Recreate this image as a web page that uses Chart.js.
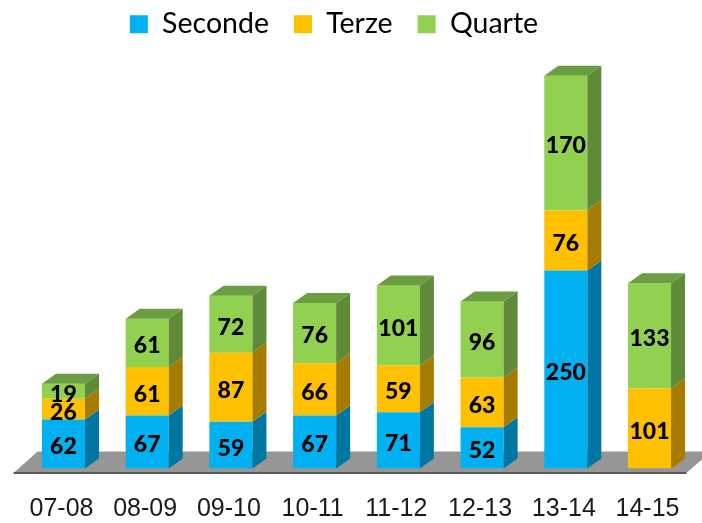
<!DOCTYPE html>
<html>
<head>
<meta charset="utf-8">
<title>Seconde Terze Quarte</title>
<script src="https://cdn.jsdelivr.net/npm/chart.js@4"></script>
<style>
    html, body { margin: 0; padding: 0; background: #fff; }
    canvas { display: block; }
</style>
</head>
<body>
<canvas id="bar_chart" width="702" height="523"></canvas>
<script>
/* global Chart */
var years = ['07-08', '08-09', '09-10', '10-11', '11-12', '12-13', '13-14', '14-15'];
var seconde = [62, 67, 59, 67, 71, 52, 250, 0];
var terze = [26, 61, 87, 66, 59, 63, 76, 101];
var quarte = [19, 61, 72, 76, 101, 96, 170, 133];

var frontColors = ['#00B0F0', '#FFC000', '#92D050'];
var sideColors = ['#0076A3', '#A67C00', '#5F8A37'];
var topColor = '#6B9E40';

// depth of the fake 3d effect
var depthX = 14;
var depthY = 10;

function poly(ctx, pts, color) {
    ctx.fillStyle = color;
    ctx.beginPath();
    ctx.moveTo(pts[0][0], pts[0][1]);
    for (var i = 1; i < pts.length; i++) {
        ctx.lineTo(pts[i][0], pts[i][1]);
    }
    ctx.closePath();
    ctx.fill();
}

var floorPlugin = {
    id: 'floor',
    beforeDatasetsDraw: function (chart) {
        var ctx = chart.ctx;
        var area = chart.chartArea;
        var base = chart.scales.y.getPixelForValue(0);
        ctx.save();
        poly(ctx, [
            [area.left - 8, base + 4.5],
            [area.left + 16, base - 17],
            [area.right + 20, base - 17],
            [area.right - 5, base + 4.5]
        ], '#969696');
        ctx.strokeStyle = '#595959';
        ctx.lineWidth = 2;
        ctx.beginPath();
        ctx.moveTo(area.left - 8, base + 4.5);
        ctx.lineTo(area.right - 5, base + 4.5);
        ctx.stroke();
        ctx.restore();
    }
};

var depthPlugin = {
    id: 'depth',
    afterDatasetsDraw: function (chart) {
        var ctx = chart.ctx;
        ctx.save();
        chart.data.datasets.forEach(function (ds, d) {
            chart.getDatasetMeta(d).data.forEach(function (bar, i) {
                if (!ds.data[i]) {
                    return;
                }
                var left = bar.x - bar.width / 2;
                var right = bar.x + bar.width / 2;
                poly(ctx, [
                    [right, bar.y],
                    [right + depthX, bar.y - depthY],
                    [right + depthX, bar.base - depthY],
                    [right, bar.base]
                ], sideColors[d]);
                if (d === chart.data.datasets.length - 1) {
                    poly(ctx, [
                        [left, bar.y],
                        [left + depthX, bar.y - depthY],
                        [right + depthX, bar.y - depthY],
                        [right, bar.y]
                    ], topColor);
                }
            });
        });
        ctx.restore();
    }
};

var valuePlugin = {
    id: 'values',
    afterDatasetsDraw: function (chart) {
        var ctx = chart.ctx;
        ctx.save();
        ctx.font = '900 23px Lato';
        ctx.fillStyle = '#000';
        ctx.textAlign = 'center';
        ctx.textBaseline = 'middle';
        chart.data.datasets.forEach(function (ds, d) {
            chart.getDatasetMeta(d).data.forEach(function (bar, i) {
                if (ds.data[i]) {
                    ctx.fillText(ds.data[i], bar.x, (bar.y + bar.base) / 2 + 3);
                }
            });
        });
        ctx.restore();
    }
};

// legend is not centered on the canvas in the original
var legendShift = {
    id: 'legendShift',
    afterLayout: function (chart) {
        chart.legend.left -= 22.5;
        chart.legend.right -= 22.5;
        chart.legend.top -= 24;
        chart.legend.bottom -= 24;
    }
};

var barChart = new Chart(document.getElementById('bar_chart'), {
    type: 'bar',
    data: {
        labels: years,
        datasets: [
            {label: 'Seconde', data: seconde, backgroundColor: frontColors[0]},
            {label: 'Terze', data: terze, backgroundColor: frontColors[1]},
            {label: 'Quarte', data: quarte, backgroundColor: frontColors[2]}
        ]
    },
    options: {
        responsive: false,
        animation: false,
        datasets: {
            bar: {categoryPercentage: 1, barPercentage: 0.514}
        },
        layout: {
            padding: {left: 21.6, right: 10.6, top: 9, bottom: 0}
        },
        scales: {
            x: {
                stacked: true,
                grid: {display: false},
                border: {display: false},
                afterFit: function (scale) {
                    scale.height = 54.5;
                },
                ticks: {
                    color: '#1a1a1a',
                    font: {family: 'Liberation Sans', size: 25},
                    padding: 18,
                    labelOffset: -2,
                    maxRotation: 0,
                    autoSkip: false
                }
            },
            y: {
                stacked: true,
                display: false,
                min: 0,
                max: 500
            }
        },
        plugins: {
            tooltip: {enabled: false},
            legend: {
                position: 'top',
                labels: {
                    boxWidth: 18,
                    boxHeight: 18,
                    padding: 25,
                    color: '#000',
                    font: {family: 'Lato', size: 28.5}
                }
            }
        }
    },
    plugins: [floorPlugin, depthPlugin, valuePlugin, legendShift]
});
</script>
</body>
</html>
